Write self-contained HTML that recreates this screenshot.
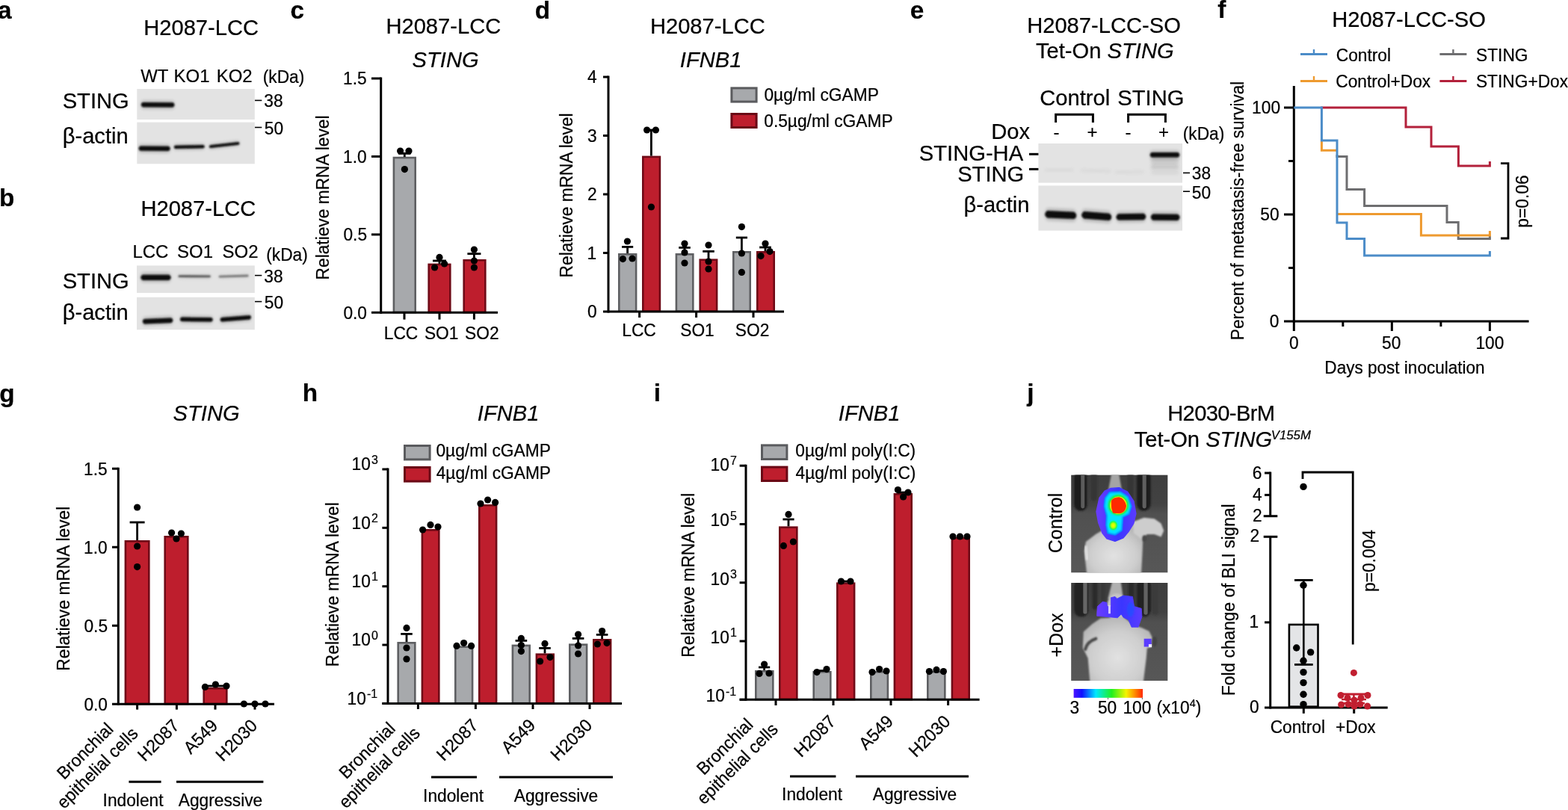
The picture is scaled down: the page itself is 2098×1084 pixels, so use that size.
<!DOCTYPE html>
<html lang="en"><head><meta charset="utf-8"><title>Figure</title>
<style>
html,body{margin:0;padding:0;background:#fff;}
body{width:2098px;height:1084px;overflow:hidden;}
svg{display:block;}
svg text{font-family:"Liberation Sans",Arial,Helvetica,sans-serif;stroke:#000;stroke-width:0.22px;stroke-linejoin:round;}
</style></head>
<body>
<svg width="2098" height="1084" viewBox="0 0 2098 1084">
<defs>
<filter id="b1" x="-30%" y="-150%" width="160%" height="400%"><feGaussianBlur stdDeviation="1.1"/></filter>
<filter id="b2" x="-30%" y="-150%" width="160%" height="400%"><feGaussianBlur stdDeviation="2.2"/></filter>
<filter id="b3" x="-20%" y="-100%" width="140%" height="300%"><feGaussianBlur stdDeviation="3.5"/></filter>
<clipPath id="cl1"><rect x="183.3" y="119" width="157.5" height="41"/></clipPath>
<clipPath id="cl2"><rect x="183.3" y="163.6" width="157.5" height="55.70000000000002"/></clipPath>
<clipPath id="cl3"><rect x="183" y="355.4" width="157.8" height="36.60000000000002"/></clipPath>
<clipPath id="cl4"><rect x="183" y="397.8" width="157.8" height="43.5"/></clipPath>
<clipPath id="cl5"><rect x="1389.4" y="192" width="192.5999999999999" height="52.599999999999994"/></clipPath>
<clipPath id="cl6"><rect x="1389.4" y="248.4" width="192.5999999999999" height="60.20000000000002"/></clipPath>
<filter id="m1" x="-30%" y="-30%" width="160%" height="160%"><feGaussianBlur stdDeviation="7"/></filter>
<filter id="m2" x="-30%" y="-30%" width="160%" height="160%"><feGaussianBlur stdDeviation="14"/></filter>
<filter id="m3" x="-40%" y="-40%" width="180%" height="180%"><feGaussianBlur stdDeviation="24"/></filter>
<filter id="m0" x="-30%" y="-30%" width="160%" height="160%"><feGaussianBlur stdDeviation="3.5"/></filter>
<linearGradient id="mbg" x1="0" y1="0" x2="0" y2="1"><stop offset="0" stop-color="#3e3e3e"/><stop offset="0.30" stop-color="#424242"/><stop offset="0.40" stop-color="#505050"/><stop offset="1" stop-color="#575757"/></linearGradient>
<radialGradient id="body" cx="0.5" cy="0.6" r="0.65"><stop offset="0" stop-color="#e2e2e2"/><stop offset="0.6" stop-color="#cecece"/><stop offset="1" stop-color="#b0b0b0"/></radialGradient>
<radialGradient id="sig2" cx="0.5" cy="0.5" r="0.5"><stop offset="0" stop-color="#f4ff00"/><stop offset="0.35" stop-color="#c0ff00"/><stop offset="0.6" stop-color="#20ff50"/><stop offset="0.85" stop-color="#00e8ff"/><stop offset="1" stop-color="#00d8ff" stop-opacity="0"/></radialGradient>
<linearGradient id="viol" x1="0" y1="0" x2="1" y2="0"><stop offset="0" stop-color="#6a3cff"/><stop offset="0.55" stop-color="#3a36ff"/><stop offset="1" stop-color="#5a3cff"/></linearGradient>
<clipPath id="cl7"><rect x="95" y="75" width="935.6" height="947.2"/></clipPath>
<clipPath id="cl8"><rect x="95" y="72" width="935.6" height="946.5"/></clipPath>
<linearGradient id="cbar" x1="0" y1="0" x2="1" y2="0"><stop offset="0" stop-color="#4a14ff"/><stop offset="0.12" stop-color="#1010ff"/><stop offset="0.32" stop-color="#00e8ff"/><stop offset="0.55" stop-color="#20f020"/><stop offset="0.76" stop-color="#f4f400"/><stop offset="0.88" stop-color="#ff9000"/><stop offset="1" stop-color="#ff2800"/></linearGradient>
</defs>
<rect x="0" y="0" width="2098" height="1084" fill="#ffffff"/>
<text transform="translate(-2.91,24.50) scale(1,1.0)" font-size="33.30" font-weight="bold" fill="#000">a</text>
<text transform="translate(192.19,47.30) scale(1,1.035)" font-size="29.15" fill="#000">H2087-LCC</text>
<text transform="translate(188.22,109.60) scale(1,1.035)" font-size="24.00" fill="#000">WT</text>
<text transform="translate(232.58,109.60) scale(1,1.035)" font-size="24.00" fill="#000">KO1</text>
<text transform="translate(289.64,109.60) scale(1,1.035)" font-size="24.00" fill="#000">KO2</text>
<text transform="translate(351.75,110.50) scale(1,1.035)" font-size="22.75" fill="#000">(kDa)</text>
<text transform="translate(83.64,145.00) scale(1,1.035)" font-size="29.15" fill="#000">STING</text>
<text transform="translate(83.66,192.00) scale(1,1.035)" font-size="29.15" fill="#000">β-actin</text>
<rect x="183.3" y="119" width="157.5" height="41" fill="#e3e3e3"/>
<g clip-path="url(#cl1)">
<path d="M190.8,134.8 L231.4,135.0 Q235.5,140.4 231.4,145.8 L190.8,145.6 Q186.7,140.2 190.8,134.8 Z" fill="#0a0a0a" opacity="0.22" filter="url(#b2)"/>
<path d="M190.8,137.0 L231.4,137.2 Q235.5,140.4 231.4,143.6 L190.8,143.3 Q186.7,140.2 190.8,137.0 Z" fill="#0a0a0a" opacity="1" filter="url(#b1)"/>
</g>
<rect x="183.3" y="163.6" width="157.5" height="55.70000000000002" fill="#e3e3e3"/>
<g clip-path="url(#cl2)">
<path d="M187.6,193.2 L225.7,193.4 Q229.7,198.8 225.7,204.2 L187.6,204.0 Q183.5,198.6 187.6,193.2 Z" fill="#0a0a0a" opacity="0.22" filter="url(#b2)"/>
<path d="M187.6,195.4 L225.7,195.7 Q229.7,198.8 225.7,202.0 L187.6,201.8 Q183.5,198.6 187.6,195.4 Z" fill="#0a0a0a" opacity="1" filter="url(#b1)"/>
<path d="M234.2,193.1 L272.2,192.5 Q275.0,196.2 272.2,199.9 L234.2,200.5 Q231.4,196.8 234.2,193.1 Z" fill="#0a0a0a" opacity="0.22" filter="url(#b2)"/>
<path d="M234.2,194.7 L272.2,194.0 Q275.0,196.2 272.2,198.3 L234.2,199.0 Q231.4,196.8 234.2,194.7 Z" fill="#0a0a0a" opacity="1" filter="url(#b1)"/>
<path d="M281.2,192.9 L319.1,188.5 Q321.6,191.8 319.1,195.1 L281.2,199.5 Q278.7,196.2 281.2,192.9 Z" fill="#0a0a0a" opacity="0.22" filter="url(#b2)"/>
<path d="M281.2,194.2 L319.1,189.9 Q321.6,191.8 319.1,193.8 L281.2,198.1 Q278.7,196.2 281.2,194.2 Z" fill="#0a0a0a" opacity="1" filter="url(#b1)"/>
</g>
<line x1="341.00" y1="134.40" x2="350.30" y2="134.40" stroke="#000" stroke-width="1.6" stroke-linecap="butt"/>
<text transform="translate(353.37,142.90) scale(1,1.035)" font-size="22.75" fill="#000">38</text>
<line x1="341.00" y1="170.50" x2="350.30" y2="170.50" stroke="#000" stroke-width="1.6" stroke-linecap="butt"/>
<text transform="translate(353.82,180.00) scale(1,1.035)" font-size="22.75" fill="#000">50</text>
<text transform="translate(-1.07,275.60) scale(1,1.0)" font-size="33.30" font-weight="bold" fill="#000">b</text>
<text transform="translate(188.39,289.00) scale(1,1.035)" font-size="29.15" fill="#000">H2087-LCC</text>
<text transform="translate(177.46,345.00) scale(1,1.035)" font-size="24.00" fill="#000">LCC</text>
<text transform="translate(237.00,345.00) scale(1,1.035)" font-size="24.00" fill="#000">SO1</text>
<text transform="translate(297.56,345.00) scale(1,1.035)" font-size="24.00" fill="#000">SO2</text>
<text transform="translate(356.25,349.00) scale(1,1.035)" font-size="22.75" fill="#000">(kDa)</text>
<text transform="translate(83.64,385.80) scale(1,1.035)" font-size="29.15" fill="#000">STING</text>
<text transform="translate(83.66,427.70) scale(1,1.035)" font-size="29.15" fill="#000">β-actin</text>
<rect x="183" y="355.4" width="157.8" height="36.60000000000002" fill="#e3e3e3"/>
<g clip-path="url(#cl3)">
<path d="M190.7,365.1 L226.3,365.1 Q231.1,371.3 226.3,377.5 L190.7,377.5 Q185.9,371.3 190.7,365.1 Z" fill="#0a0a0a" opacity="0.22" filter="url(#b2)"/>
<path d="M190.7,367.7 L226.3,367.7 Q231.1,371.3 226.3,374.9 L190.7,374.9 Q185.9,371.3 190.7,367.7 Z" fill="#0a0a0a" opacity="1" filter="url(#b1)"/>
<path d="M239.4,367.2 L280.9,367.4 Q282.8,369.9 280.9,372.4 L239.4,372.2 Q237.6,369.7 239.4,367.2 Z" fill="#3a3a3a" opacity="0.18" filter="url(#b2)"/>
<path d="M239.4,368.2 L280.9,368.4 Q282.8,369.9 280.9,371.3 L239.4,371.1 Q237.6,369.7 239.4,368.2 Z" fill="#3a3a3a" opacity="0.8" filter="url(#b1)"/>
<path d="M293.4,367.9 L331.9,366.7 Q333.7,369.0 331.9,371.3 L293.4,372.5 Q291.6,370.2 293.4,367.9 Z" fill="#4a4a4a" opacity="0.14" filter="url(#b2)"/>
<path d="M293.4,368.8 L331.9,367.6 Q333.7,369.0 331.9,370.4 L293.4,371.6 Q291.6,370.2 293.4,368.8 Z" fill="#4a4a4a" opacity="0.65" filter="url(#b1)"/>
</g>
<rect x="183" y="397.8" width="157.8" height="43.5" fill="#e3e3e3"/>
<g clip-path="url(#cl4)">
<path d="M192.9,424.8 L229.2,423.1 Q233.5,428.6 229.2,434.1 L192.9,435.8 Q188.7,430.3 192.9,424.8 Z" fill="#0a0a0a" opacity="0.22" filter="url(#b2)"/>
<path d="M192.9,427.1 L229.2,425.4 Q233.5,428.6 229.2,431.9 L192.9,433.6 Q188.7,430.3 192.9,427.1 Z" fill="#0a0a0a" opacity="1" filter="url(#b1)"/>
<path d="M242.8,422.6 L282.9,423.1 Q286.4,427.8 282.9,432.5 L242.8,432.0 Q239.2,427.3 242.8,422.6 Z" fill="#0a0a0a" opacity="0.22" filter="url(#b2)"/>
<path d="M242.8,424.6 L282.9,425.1 Q286.4,427.8 282.9,430.6 L242.8,430.1 Q239.2,427.3 242.8,424.6 Z" fill="#0a0a0a" opacity="1" filter="url(#b1)"/>
<path d="M296.4,423.1 L334.2,419.9 Q337.8,424.6 334.2,429.3 L296.4,432.5 Q292.8,427.8 296.4,423.1 Z" fill="#0a0a0a" opacity="0.22" filter="url(#b2)"/>
<path d="M296.4,425.1 L334.2,421.9 Q337.8,424.6 334.2,427.4 L296.4,430.6 Q292.8,427.8 296.4,425.1 Z" fill="#0a0a0a" opacity="1" filter="url(#b1)"/>
</g>
<line x1="341.00" y1="368.60" x2="350.30" y2="368.60" stroke="#000" stroke-width="1.6" stroke-linecap="butt"/>
<text transform="translate(353.37,377.80) scale(1,1.035)" font-size="22.75" fill="#000">38</text>
<line x1="341.00" y1="403.60" x2="350.30" y2="403.60" stroke="#000" stroke-width="1.6" stroke-linecap="butt"/>
<text transform="translate(353.82,412.80) scale(1,1.035)" font-size="22.75" fill="#000">50</text>
<text transform="translate(388.49,24.50) scale(1,1.0)" font-size="33.30" font-weight="bold" fill="#000">c</text>
<text transform="translate(516.39,45.00) scale(1,1.035)" font-size="29.15" fill="#000">H2087-LCC</text>
<text transform="translate(551.62,90.00) scale(1,1.035)" font-size="29.15" font-style="italic" fill="#000">STING</text>
<rect x="526.90" y="211.03" width="28.80" height="206.97" fill="#a7a9ac" stroke="#5e5f62" stroke-width="2.6"/>
<rect x="573.70" y="353.90" width="28.60" height="64.10" fill="#be1e2d" stroke="#700a17" stroke-width="2.6"/>
<rect x="620.70" y="348.30" width="28.60" height="69.70" fill="#be1e2d" stroke="#700a17" stroke-width="2.6"/>
<line x1="509.70" y1="103.50" x2="509.70" y2="419.80" stroke="#000" stroke-width="3.0" stroke-linecap="butt"/>
<line x1="497.00" y1="418.30" x2="666.00" y2="418.30" stroke="#000" stroke-width="3.0" stroke-linecap="butt"/>
<line x1="497.00" y1="313.87" x2="509.70" y2="313.87" stroke="#000" stroke-width="3.0" stroke-linecap="butt"/>
<line x1="497.00" y1="209.43" x2="509.70" y2="209.43" stroke="#000" stroke-width="3.0" stroke-linecap="butt"/>
<line x1="497.00" y1="105.00" x2="509.70" y2="105.00" stroke="#000" stroke-width="3.0" stroke-linecap="butt"/>
<line x1="541.00" y1="418.30" x2="541.00" y2="427.60" stroke="#000" stroke-width="3.0" stroke-linecap="butt"/>
<line x1="588.00" y1="418.30" x2="588.00" y2="427.60" stroke="#000" stroke-width="3.0" stroke-linecap="butt"/>
<line x1="634.40" y1="418.30" x2="634.40" y2="427.60" stroke="#000" stroke-width="3.0" stroke-linecap="butt"/>
<text transform="translate(459.38,426.70) scale(1,1.035)" font-size="22.75" fill="#000">0.0</text>
<text transform="translate(459.44,322.27) scale(1,1.035)" font-size="22.75" fill="#000">0.5</text>
<text transform="translate(458.98,217.83) scale(1,1.035)" font-size="22.75" fill="#000">1.0</text>
<text transform="translate(459.04,113.40) scale(1,1.035)" font-size="22.75" fill="#000">1.5</text>
<text transform="translate(513.74,454.00) scale(1,1.035)" font-size="22.75" fill="#000">LCC</text>
<text transform="translate(567.95,454.00) scale(1,1.035)" font-size="22.75" fill="#000">SO1</text>
<text transform="translate(622.11,454.00) scale(1,1.035)" font-size="22.75" fill="#000">SO2</text>
<text transform="translate(440.00,374.42) rotate(-90) scale(1,1.035)" font-size="22.75" fill="#000">Relatieve mRNA level</text>
<line x1="541.30" y1="205.40" x2="541.30" y2="210.00" stroke="#000" stroke-width="2.8" stroke-linecap="butt"/>
<line x1="533.10" y1="205.40" x2="549.50" y2="205.40" stroke="#000" stroke-width="2.8" stroke-linecap="butt"/>
<circle cx="535.60" cy="202.00" r="4.6" fill="#000"/>
<circle cx="547.00" cy="202.00" r="4.6" fill="#000"/>
<circle cx="541.40" cy="226.60" r="4.6" fill="#000"/>
<line x1="588.00" y1="349.00" x2="588.00" y2="353.00" stroke="#000" stroke-width="2.8" stroke-linecap="butt"/>
<line x1="579.00" y1="349.00" x2="597.00" y2="349.00" stroke="#000" stroke-width="2.8" stroke-linecap="butt"/>
<circle cx="588.00" cy="344.40" r="4.6" fill="#000"/>
<circle cx="594.60" cy="353.00" r="4.6" fill="#000"/>
<circle cx="581.60" cy="358.00" r="4.6" fill="#000"/>
<line x1="634.40" y1="339.60" x2="634.40" y2="347.00" stroke="#000" stroke-width="2.8" stroke-linecap="butt"/>
<line x1="625.40" y1="339.60" x2="643.40" y2="339.60" stroke="#000" stroke-width="2.8" stroke-linecap="butt"/>
<circle cx="634.40" cy="334.00" r="4.6" fill="#000"/>
<circle cx="634.40" cy="349.00" r="4.6" fill="#000"/>
<circle cx="634.40" cy="358.00" r="4.6" fill="#000"/>
<text transform="translate(715.71,24.50) scale(1,1.0)" font-size="33.30" font-weight="bold" fill="#000">d</text>
<text transform="translate(869.89,45.00) scale(1,1.035)" font-size="29.15" fill="#000">H2087-LCC</text>
<text transform="translate(909.84,90.00) scale(1,1.035)" font-size="29.15" font-style="italic" fill="#000">IFNB1</text>
<rect x="828.30" y="340.30" width="22.80" height="76.40" fill="#a7a9ac" stroke="#5e5f62" stroke-width="2.6"/>
<rect x="860.30" y="209.90" width="22.60" height="206.80" fill="#be1e2d" stroke="#700a17" stroke-width="2.6"/>
<rect x="904.90" y="340.30" width="22.40" height="76.40" fill="#a7a9ac" stroke="#5e5f62" stroke-width="2.6"/>
<rect x="936.70" y="347.70" width="22.40" height="69.00" fill="#be1e2d" stroke="#700a17" stroke-width="2.6"/>
<rect x="981.30" y="337.30" width="22.40" height="79.40" fill="#a7a9ac" stroke="#5e5f62" stroke-width="2.6"/>
<rect x="1013.30" y="337.30" width="22.40" height="79.40" fill="#be1e2d" stroke="#700a17" stroke-width="2.6"/>
<line x1="814.00" y1="101.50" x2="814.00" y2="418.50" stroke="#000" stroke-width="3.0" stroke-linecap="butt"/>
<line x1="807.00" y1="417.00" x2="1049.00" y2="417.00" stroke="#000" stroke-width="3.0" stroke-linecap="butt"/>
<line x1="807.00" y1="338.50" x2="814.00" y2="338.50" stroke="#000" stroke-width="3.0" stroke-linecap="butt"/>
<line x1="807.00" y1="260.00" x2="814.00" y2="260.00" stroke="#000" stroke-width="3.0" stroke-linecap="butt"/>
<line x1="807.00" y1="181.50" x2="814.00" y2="181.50" stroke="#000" stroke-width="3.0" stroke-linecap="butt"/>
<line x1="807.00" y1="103.00" x2="814.00" y2="103.00" stroke="#000" stroke-width="3.0" stroke-linecap="butt"/>
<line x1="855.60" y1="417.00" x2="855.60" y2="425.00" stroke="#000" stroke-width="3.0" stroke-linecap="butt"/>
<line x1="931.60" y1="417.00" x2="931.60" y2="425.00" stroke="#000" stroke-width="3.0" stroke-linecap="butt"/>
<line x1="1008.00" y1="417.00" x2="1008.00" y2="425.00" stroke="#000" stroke-width="3.0" stroke-linecap="butt"/>
<text transform="translate(785.88,425.20) scale(1,1.035)" font-size="22.75" fill="#000">0</text>
<text transform="translate(785.60,346.70) scale(1,1.035)" font-size="22.75" fill="#000">1</text>
<text transform="translate(785.94,268.20) scale(1,1.035)" font-size="22.75" fill="#000">2</text>
<text transform="translate(785.94,189.70) scale(1,1.035)" font-size="22.75" fill="#000">3</text>
<text transform="translate(786.05,111.20) scale(1,1.035)" font-size="22.75" fill="#000">4</text>
<text transform="translate(832.24,450.00) scale(1,1.035)" font-size="22.75" fill="#000">LCC</text>
<text transform="translate(910.25,450.00) scale(1,1.035)" font-size="22.75" fill="#000">SO1</text>
<text transform="translate(983.81,450.00) scale(1,1.035)" font-size="22.75" fill="#000">SO2</text>
<text transform="translate(766.00,371.42) rotate(-90) scale(1,1.035)" font-size="22.75" fill="#000">Relatieve mRNA level</text>
<line x1="839.60" y1="330.40" x2="839.60" y2="339.00" stroke="#000" stroke-width="2.8" stroke-linecap="butt"/>
<line x1="832.00" y1="330.40" x2="847.20" y2="330.40" stroke="#000" stroke-width="2.8" stroke-linecap="butt"/>
<circle cx="839.40" cy="323.00" r="4.6" fill="#000"/>
<circle cx="833.40" cy="346.60" r="4.6" fill="#000"/>
<circle cx="846.00" cy="346.00" r="4.6" fill="#000"/>
<line x1="871.40" y1="174.00" x2="871.40" y2="208.60" stroke="#000" stroke-width="2.8" stroke-linecap="butt"/>
<line x1="863.80" y1="174.00" x2="879.00" y2="174.00" stroke="#000" stroke-width="2.8" stroke-linecap="butt"/>
<circle cx="865.60" cy="174.00" r="4.6" fill="#000"/>
<circle cx="877.40" cy="174.00" r="4.6" fill="#000"/>
<circle cx="871.40" cy="277.00" r="4.6" fill="#000"/>
<line x1="916.00" y1="331.40" x2="916.00" y2="339.00" stroke="#000" stroke-width="2.8" stroke-linecap="butt"/>
<line x1="908.20" y1="331.40" x2="923.80" y2="331.40" stroke="#000" stroke-width="2.8" stroke-linecap="butt"/>
<circle cx="916.00" cy="326.00" r="4.6" fill="#000"/>
<circle cx="916.00" cy="338.00" r="4.6" fill="#000"/>
<circle cx="916.00" cy="352.00" r="4.6" fill="#000"/>
<line x1="948.00" y1="336.40" x2="948.00" y2="346.40" stroke="#000" stroke-width="2.8" stroke-linecap="butt"/>
<line x1="940.20" y1="336.40" x2="955.80" y2="336.40" stroke="#000" stroke-width="2.8" stroke-linecap="butt"/>
<circle cx="948.00" cy="328.00" r="4.6" fill="#000"/>
<circle cx="948.00" cy="350.00" r="4.6" fill="#000"/>
<circle cx="948.00" cy="360.00" r="4.6" fill="#000"/>
<line x1="992.40" y1="318.00" x2="992.40" y2="336.00" stroke="#000" stroke-width="2.8" stroke-linecap="butt"/>
<line x1="984.80" y1="318.00" x2="1000.00" y2="318.00" stroke="#000" stroke-width="2.8" stroke-linecap="butt"/>
<circle cx="992.40" cy="303.60" r="4.6" fill="#000"/>
<circle cx="992.40" cy="339.00" r="4.6" fill="#000"/>
<circle cx="992.40" cy="364.40" r="4.6" fill="#000"/>
<line x1="1024.00" y1="331.00" x2="1024.00" y2="336.00" stroke="#000" stroke-width="2.8" stroke-linecap="butt"/>
<line x1="1016.20" y1="331.00" x2="1031.80" y2="331.00" stroke="#000" stroke-width="2.8" stroke-linecap="butt"/>
<circle cx="1024.00" cy="326.00" r="4.6" fill="#000"/>
<circle cx="1030.00" cy="336.60" r="4.6" fill="#000"/>
<circle cx="1018.00" cy="342.60" r="4.6" fill="#000"/>
<rect x="978.90" y="117.90" width="33.20" height="18.20" fill="#a7a9ac" stroke="#5a5b5e" stroke-width="3.0"/>
<rect x="978.90" y="152.50" width="33.20" height="18.00" fill="#be1e2d" stroke="#6a0915" stroke-width="3.0"/>
<text transform="translate(1022.45,135.00) scale(1,1.035)" font-size="22.75" fill="#000">0µg/ml cGAMP</text>
<text transform="translate(1022.25,169.60) scale(1,1.035)" font-size="22.75" fill="#000">0.5µg/ml cGAMP</text>
<text transform="translate(1217.68,24.50) scale(1,1.0)" font-size="33.30" font-weight="bold" fill="#000">e</text>
<text transform="translate(1374.16,44.00) scale(1,1.035)" font-size="29.15" fill="#000">H2087-LCC-SO</text>
<text transform="translate(1386,78) scale(1,1.035)" font-size="29.15">Tet-On <tspan font-style="italic">STING</tspan></text>
<text transform="translate(1391.29,141.00) scale(1,1.035)" font-size="29.15" fill="#000">Control</text>
<text transform="translate(1495.34,141.00) scale(1,1.035)" font-size="29.15" fill="#000">STING</text>
<path d="M1412.6,164 V153.3 H1462.4 V164" stroke="#000" stroke-width="3" fill="none" stroke-linejoin="miter"/>
<path d="M1509.6,164 V153.3 H1559.4 V164" stroke="#000" stroke-width="3" fill="none" stroke-linejoin="miter"/>
<text transform="translate(1326.24,185.80) scale(1,1.035)" font-size="29.15" fill="#000">Dox</text>
<text transform="translate(1409.58,185.20) scale(1,1.035)" font-size="24.00" fill="#000">-</text>
<text transform="translate(1505.58,185.20) scale(1,1.035)" font-size="24.00" fill="#000">-</text>
<text transform="translate(1454.58,185.20) scale(1,1.035)" font-size="24.00" fill="#000">+</text>
<text transform="translate(1549.98,185.20) scale(1,1.035)" font-size="24.00" fill="#000">+</text>
<text transform="translate(1582.74,186.80) scale(1,1.035)" font-size="22.75" fill="#000">(kDa)</text>
<rect x="1389.4" y="192" width="192.5999999999999" height="52.599999999999994" fill="#e3e3e3"/>
<g clip-path="url(#cl5)">
<path d="M1540.8,201.7 L1576.2,201.7 Q1580.5,207.3 1576.2,212.9 L1540.8,212.9 Q1536.5,207.3 1540.8,201.7 Z" fill="#0a0a0a" opacity="0.22" filter="url(#b2)"/>
<path d="M1540.8,204.0 L1576.2,204.0 Q1580.5,207.3 1576.2,210.6 L1540.8,210.6 Q1536.5,207.3 1540.8,204.0 Z" fill="#0a0a0a" opacity="1" filter="url(#b1)"/>
<path d="M1542.7,208.1 L1574.3,208.1 Q1580.4,216.0 1574.3,223.9 L1542.7,223.9 Q1536.6,216.0 1542.7,208.1 Z" fill="#555" opacity="0.03" filter="url(#b2)"/>
<path d="M1542.7,211.3 L1574.3,211.3 Q1580.4,216.0 1574.3,220.7 L1542.7,220.7 Q1536.6,216.0 1542.7,211.3 Z" fill="#555" opacity="0.14" filter="url(#b2)"/>
<path d="M1540.7,221.2 L1576.3,221.2 Q1578.5,224.0 1576.3,226.8 L1540.7,226.8 Q1538.5,224.0 1540.7,221.2 Z" fill="#666" opacity="0.05" filter="url(#b2)"/>
<path d="M1540.7,222.3 L1576.3,222.3 Q1578.5,224.0 1576.3,225.7 L1540.7,225.7 Q1538.5,224.0 1540.7,222.3 Z" fill="#666" opacity="0.22" filter="url(#b2)"/>
<path d="M1541.2,229.0 L1576.8,229.0 Q1578.3,231.0 1576.8,233.0 L1541.2,233.0 Q1539.7,231.0 1541.2,229.0 Z" fill="#888" opacity="0.04" filter="url(#b2)"/>
<path d="M1541.2,229.8 L1576.8,229.8 Q1578.3,231.0 1576.8,232.2 L1541.2,232.2 Q1539.7,231.0 1541.2,229.8 Z" fill="#888" opacity="0.2" filter="url(#b2)"/>
<path d="M1398.2,225.5 L1435.8,225.5 Q1437.3,227.5 1435.8,229.5 L1398.2,229.5 Q1396.7,227.5 1398.2,225.5 Z" fill="#999" opacity="0.03" filter="url(#b2)"/>
<path d="M1398.2,226.3 L1435.8,226.3 Q1437.3,227.5 1435.8,228.7 L1398.2,228.7 Q1396.7,227.5 1398.2,226.3 Z" fill="#999" opacity="0.15" filter="url(#b2)"/>
<path d="M1446.2,226.0 L1485.8,227.0 Q1487.3,229.0 1485.8,231.0 L1446.2,230.0 Q1444.7,228.0 1446.2,226.0 Z" fill="#999" opacity="0.03" filter="url(#b2)"/>
<path d="M1446.2,226.8 L1485.8,227.8 Q1487.3,229.0 1485.8,230.2 L1446.2,229.2 Q1444.7,228.0 1446.2,226.8 Z" fill="#999" opacity="0.15" filter="url(#b2)"/>
<path d="M1492.2,228.5 L1529.8,228.0 Q1531.3,230.0 1529.8,232.0 L1492.2,232.5 Q1490.7,230.5 1492.2,228.5 Z" fill="#999" opacity="0.03" filter="url(#b2)"/>
<path d="M1492.2,229.3 L1529.8,228.8 Q1531.3,230.0 1529.8,231.2 L1492.2,231.7 Q1490.7,230.5 1492.2,229.3 Z" fill="#999" opacity="0.15" filter="url(#b2)"/>
</g>
<rect x="1389.4" y="248.4" width="192.5999999999999" height="60.20000000000002" fill="#e3e3e3"/>
<g clip-path="url(#cl6)">
<path d="M1401.2,278.8 L1437.3,280.4 Q1443.4,288.4 1437.3,296.4 L1401.2,294.8 Q1395.1,286.8 1401.2,278.8 Z" fill="#0a0a0a" opacity="0.22" filter="url(#b2)"/>
<path d="M1401.2,282.1 L1437.3,283.7 Q1443.4,288.4 1437.3,293.1 L1401.2,291.5 Q1395.1,286.8 1401.2,282.1 Z" fill="#0a0a0a" opacity="1" filter="url(#b1)"/>
<path d="M1450.2,279.8 L1484.3,282.4 Q1490.4,290.4 1484.3,298.4 L1450.2,295.8 Q1444.1,287.8 1450.2,279.8 Z" fill="#0a0a0a" opacity="0.22" filter="url(#b2)"/>
<path d="M1450.2,283.1 L1484.3,285.7 Q1490.4,290.4 1484.3,295.1 L1450.2,292.5 Q1444.1,287.8 1450.2,283.1 Z" fill="#0a0a0a" opacity="1" filter="url(#b1)"/>
<path d="M1496.2,283.3 L1530.5,282.9 Q1536.0,290.0 1530.5,297.1 L1496.2,297.5 Q1490.7,290.4 1496.2,283.3 Z" fill="#0a0a0a" opacity="0.22" filter="url(#b2)"/>
<path d="M1496.2,286.2 L1530.5,285.8 Q1536.0,290.0 1530.5,294.2 L1496.2,294.6 Q1490.7,290.4 1496.2,286.2 Z" fill="#0a0a0a" opacity="1" filter="url(#b1)"/>
<path d="M1542.5,283.6 L1575.9,283.8 Q1581.2,290.8 1575.9,297.8 L1542.5,297.6 Q1537.2,290.6 1542.5,283.6 Z" fill="#0a0a0a" opacity="0.22" filter="url(#b2)"/>
<path d="M1542.5,286.5 L1575.9,286.7 Q1581.2,290.8 1575.9,294.9 L1542.5,294.7 Q1537.2,290.6 1542.5,286.5 Z" fill="#0a0a0a" opacity="1" filter="url(#b1)"/>
</g>
<text transform="translate(1229.85,215.00) scale(1,1.035)" font-size="29.15" fill="#000">STING-HA</text>
<line x1="1377.00" y1="206.30" x2="1389.40" y2="206.30" stroke="#000" stroke-width="3" stroke-linecap="butt"/>
<text transform="translate(1281.14,243.10) scale(1,1.035)" font-size="29.15" fill="#000">STING</text>
<line x1="1377.00" y1="226.40" x2="1389.40" y2="226.40" stroke="#000" stroke-width="3" stroke-linecap="butt"/>
<text transform="translate(1289.41,284.00) scale(1,1.035)" font-size="29.15" fill="#000">β-actin</text>
<line x1="1583.00" y1="231.40" x2="1592.00" y2="231.40" stroke="#000" stroke-width="1.6" stroke-linecap="butt"/>
<text transform="translate(1594.87,240.40) scale(1,1.035)" font-size="22.75" fill="#000">38</text>
<line x1="1583.00" y1="256.20" x2="1592.00" y2="256.20" stroke="#000" stroke-width="1.6" stroke-linecap="butt"/>
<text transform="translate(1594.82,266.00) scale(1,1.035)" font-size="22.75" fill="#000">50</text>
<text transform="translate(1629.17,24.40) scale(1,1.0)" font-size="33.30" font-weight="bold" fill="#000">f</text>
<text transform="translate(1782.16,35.60) scale(1,1.035)" font-size="29.15" fill="#000">H2087-LCC-SO</text>
<line x1="1740.00" y1="72.60" x2="1776.00" y2="72.60" stroke="#4b8cc8" stroke-width="3.0" stroke-linecap="butt"/>
<line x1="1758.00" y1="72.60" x2="1758.00" y2="66.10" stroke="#4b8cc8" stroke-width="2.4000000000000004" stroke-linecap="butt"/>
<text transform="translate(1787.74,82.00) scale(1,1.035)" font-size="22.75" fill="#000">Control</text>
<line x1="1926.40" y1="72.60" x2="1962.40" y2="72.60" stroke="#6e6e70" stroke-width="3.0" stroke-linecap="butt"/>
<line x1="1944.40" y1="72.60" x2="1944.40" y2="66.10" stroke="#6e6e70" stroke-width="2.4000000000000004" stroke-linecap="butt"/>
<text transform="translate(1975.03,82.00) scale(1,1.035)" font-size="22.75" fill="#000">STING</text>
<line x1="1740.00" y1="108.40" x2="1776.00" y2="108.40" stroke="#ee9a2f" stroke-width="3.0" stroke-linecap="butt"/>
<line x1="1758.00" y1="108.40" x2="1758.00" y2="101.90" stroke="#ee9a2f" stroke-width="2.4000000000000004" stroke-linecap="butt"/>
<text transform="translate(1787.22,117.00) scale(1,1.035)" font-size="22.75" fill="#000">Control+Dox</text>
<line x1="1926.40" y1="108.40" x2="1962.40" y2="108.40" stroke="#b3213b" stroke-width="3.0" stroke-linecap="butt"/>
<line x1="1944.40" y1="108.40" x2="1944.40" y2="101.90" stroke="#b3213b" stroke-width="2.4000000000000004" stroke-linecap="butt"/>
<text transform="translate(1974.90,117.00) scale(1,1.035)" font-size="22.75" fill="#000">STING+Dox</text>
<line x1="1731.30" y1="115.00" x2="1731.30" y2="431.50" stroke="#000" stroke-width="3.0" stroke-linecap="butt"/>
<line x1="1718.00" y1="430.00" x2="2045.60" y2="430.00" stroke="#000" stroke-width="3.0" stroke-linecap="butt"/>
<line x1="1718.00" y1="287.00" x2="1731.30" y2="287.00" stroke="#000" stroke-width="3.0" stroke-linecap="butt"/>
<line x1="1718.00" y1="144.00" x2="1731.30" y2="144.00" stroke="#000" stroke-width="3.0" stroke-linecap="butt"/>
<line x1="1724.00" y1="358.50" x2="1731.30" y2="358.50" stroke="#000" stroke-width="3.0" stroke-linecap="butt"/>
<line x1="1724.00" y1="215.50" x2="1731.30" y2="215.50" stroke="#000" stroke-width="3.0" stroke-linecap="butt"/>
<line x1="1731.30" y1="430.00" x2="1731.30" y2="443.00" stroke="#000" stroke-width="3.0" stroke-linecap="butt"/>
<line x1="1862.35" y1="430.00" x2="1862.35" y2="443.00" stroke="#000" stroke-width="3.0" stroke-linecap="butt"/>
<line x1="1993.40" y1="430.00" x2="1993.40" y2="443.00" stroke="#000" stroke-width="3.0" stroke-linecap="butt"/>
<line x1="1796.83" y1="430.00" x2="1796.83" y2="437.00" stroke="#000" stroke-width="3.0" stroke-linecap="butt"/>
<line x1="1927.88" y1="430.00" x2="1927.88" y2="437.00" stroke="#000" stroke-width="3.0" stroke-linecap="butt"/>
<path d="M1767.2,144.0 L1881.0,144.0 L1881.0,170.0 L1915.0,170.0 L1915.0,196.0 L1951.4,196.0 L1951.4,222.0 L1993.4,222.0 v-6" stroke="#b3213b" stroke-width="3.0" fill="none" stroke-linejoin="miter"/>
<path d="M1789.0,207.0 L1789.0,209.4 L1802.0,209.4 L1802.0,253.6 L1825.6,253.6 L1825.6,275.6 L1936.0,275.6 L1936.0,297.4 L1951.2,297.4 L1951.2,319.4 L1993.4,319.4 v-4" stroke="#6e6e70" stroke-width="3.0" fill="none" stroke-linejoin="miter"/>
<path d="M1768.4,186.0 L1768.4,201.2 L1789.0,201.2" stroke="#ee9a2f" stroke-width="3.0" fill="none" stroke-linejoin="miter"/>
<path d="M1789.0,286.4 L1901.4,286.4 L1901.4,315.0 L1993.4,315.0 v-6" stroke="#ee9a2f" stroke-width="3.0" fill="none" stroke-linejoin="miter"/>
<path d="M1731.3,144.0 L1768.4,144.0 L1768.4,188.0 L1789.0,188.0 L1789.0,298.0 L1802.0,298.0 L1802.0,319.6 L1825.6,319.6 L1825.6,342.0 L1993.4,342.0 v-6" stroke="#4b8cc8" stroke-width="3.0" fill="none" stroke-linejoin="miter"/>
<text transform="translate(1675.11,152.40) scale(1,1.035)" font-size="22.75" fill="#000">100</text>
<text transform="translate(1686.32,294.60) scale(1,1.035)" font-size="22.75" fill="#000">50</text>
<text transform="translate(1698.63,438.20) scale(1,1.035)" font-size="22.75" fill="#000">0</text>
<text transform="translate(1724.93,466.80) scale(1,1.035)" font-size="22.75" fill="#000">0</text>
<text transform="translate(1849.02,466.80) scale(1,1.035)" font-size="22.75" fill="#000">50</text>
<text transform="translate(1974.41,466.80) scale(1,1.035)" font-size="22.75" fill="#000">100</text>
<text transform="translate(1772.36,499.70) scale(1,1.035)" font-size="22.55" fill="#000">Days post inoculation</text>
<text transform="translate(1664.00,455.15) rotate(-90) scale(1,1.035)" font-size="22.60" fill="#000">Percent of metastasis-free survival</text>
<path d="M2008,218.6 H2018 V319 H2008" stroke="#000" stroke-width="2.8" fill="none" stroke-linejoin="miter"/>
<text transform="translate(2044.60,304.63) rotate(-90) scale(1,1.035)" font-size="22.75" fill="#000">p=0.06</text>
<text transform="translate(-0.75,537.60) scale(1,1.0)" font-size="33.30" font-weight="bold" fill="#000">g</text>
<text transform="translate(231.62,563.00) scale(1,1.035)" font-size="29.15" font-style="italic" fill="#000">STING</text>
<rect x="167.90" y="724.30" width="31.40" height="217.70" fill="#be1e2d" stroke="#700a17" stroke-width="2.6"/>
<rect x="220.70" y="718.30" width="30.60" height="223.70" fill="#be1e2d" stroke="#700a17" stroke-width="2.6"/>
<rect x="272.70" y="921.30" width="30.60" height="20.70" fill="#be1e2d" stroke="#700a17" stroke-width="2.6"/>
<line x1="158.30" y1="625.70" x2="158.30" y2="943.80" stroke="#000" stroke-width="3.0" stroke-linecap="butt"/>
<line x1="150.00" y1="942.30" x2="367.00" y2="942.30" stroke="#000" stroke-width="3.0" stroke-linecap="butt"/>
<line x1="150.00" y1="837.27" x2="158.30" y2="837.27" stroke="#000" stroke-width="3.0" stroke-linecap="butt"/>
<line x1="150.00" y1="732.23" x2="158.30" y2="732.23" stroke="#000" stroke-width="3.0" stroke-linecap="butt"/>
<line x1="150.00" y1="627.20" x2="158.30" y2="627.20" stroke="#000" stroke-width="3.0" stroke-linecap="butt"/>
<line x1="183.60" y1="942.30" x2="183.60" y2="949.60" stroke="#000" stroke-width="3.0" stroke-linecap="butt"/>
<line x1="236.40" y1="942.30" x2="236.40" y2="949.60" stroke="#000" stroke-width="3.0" stroke-linecap="butt"/>
<line x1="288.00" y1="942.30" x2="288.00" y2="949.60" stroke="#000" stroke-width="3.0" stroke-linecap="butt"/>
<line x1="341.00" y1="942.30" x2="341.00" y2="949.60" stroke="#000" stroke-width="3.0" stroke-linecap="butt"/>
<text transform="translate(112.38,951.10) scale(1,1.035)" font-size="22.75" fill="#000">0.0</text>
<text transform="translate(112.44,846.07) scale(1,1.035)" font-size="22.75" fill="#000">0.5</text>
<text transform="translate(111.98,741.03) scale(1,1.035)" font-size="22.75" fill="#000">1.0</text>
<text transform="translate(112.04,636.00) scale(1,1.035)" font-size="22.75" fill="#000">1.5</text>
<text transform="translate(93.00,897.67) rotate(-90) scale(1,1.035)" font-size="22.75" fill="#000">Relatieve mRNA level</text>
<line x1="183.60" y1="699.00" x2="183.60" y2="723.00" stroke="#000" stroke-width="2.8" stroke-linecap="butt"/>
<line x1="173.60" y1="699.00" x2="193.60" y2="699.00" stroke="#000" stroke-width="2.8" stroke-linecap="butt"/>
<circle cx="183.60" cy="679.00" r="4.6" fill="#000"/>
<circle cx="183.60" cy="731.00" r="4.6" fill="#000"/>
<circle cx="183.60" cy="758.60" r="4.6" fill="#000"/>
<circle cx="229.60" cy="713.00" r="4.6" fill="#000"/>
<circle cx="242.40" cy="714.00" r="4.6" fill="#000"/>
<circle cx="236.00" cy="721.00" r="4.6" fill="#000"/>
<line x1="274.00" y1="918.00" x2="302.00" y2="918.00" stroke="#000" stroke-width="2.8" stroke-linecap="butt"/>
<circle cx="274.40" cy="919.40" r="4.6" fill="#000"/>
<circle cx="288.40" cy="916.00" r="4.6" fill="#000"/>
<circle cx="303.00" cy="918.00" r="4.6" fill="#000"/>
<circle cx="326.40" cy="942.00" r="4.6" fill="#000"/>
<circle cx="341.00" cy="942.00" r="4.6" fill="#000"/>
<circle cx="355.00" cy="942.00" r="4.6" fill="#000"/>
<text transform="translate(153.00,977.20) rotate(-45) scale(1,1.035)" font-size="22.80" text-anchor="end">Bronchial</text>
<text transform="translate(186.00,983.20) rotate(-45) scale(1,1.035)" font-size="22.80" text-anchor="end">epithelial cells</text>
<text transform="translate(241.20,972.50) rotate(-45) scale(1,1.035)" font-size="22.80" text-anchor="end">H2087</text>
<text transform="translate(292.80,972.50) rotate(-45) scale(1,1.035)" font-size="22.80" text-anchor="end">A549</text>
<text transform="translate(345.80,972.50) rotate(-45) scale(1,1.035)" font-size="22.80" text-anchor="end">H2030</text>
<line x1="172.40" y1="1046.30" x2="215.60" y2="1046.30" stroke="#000" stroke-width="3.0" stroke-linecap="butt"/>
<text transform="translate(137.59,1078.90) scale(1,1.035)" font-size="22.75" fill="#000">Indolent</text>
<line x1="236.00" y1="1046.30" x2="352.40" y2="1046.30" stroke="#000" stroke-width="3.0" stroke-linecap="butt"/>
<text transform="translate(238.76,1078.90) scale(1,1.035)" font-size="22.75" fill="#000">Aggressive</text>
<text transform="translate(404.78,537.10) scale(1,1.0)" font-size="33.30" font-weight="bold" fill="#000">h</text>
<text transform="translate(638.84,563.00) scale(1,1.035)" font-size="29.15" font-style="italic" fill="#000">IFNB1</text>
<rect x="532.70" y="860.30" width="22.60" height="80.80" fill="#a7a9ac" stroke="#5e5f62" stroke-width="2.6"/>
<rect x="564.90" y="709.30" width="22.40" height="231.80" fill="#be1e2d" stroke="#700a17" stroke-width="2.6"/>
<rect x="609.30" y="865.70" width="22.80" height="75.40" fill="#a7a9ac" stroke="#5e5f62" stroke-width="2.6"/>
<rect x="641.30" y="676.30" width="22.80" height="264.80" fill="#be1e2d" stroke="#700a17" stroke-width="2.6"/>
<rect x="685.90" y="863.90" width="22.80" height="77.20" fill="#a7a9ac" stroke="#5e5f62" stroke-width="2.6"/>
<rect x="717.90" y="875.70" width="22.80" height="65.40" fill="#be1e2d" stroke="#700a17" stroke-width="2.6"/>
<rect x="762.30" y="862.70" width="22.80" height="78.40" fill="#a7a9ac" stroke="#5e5f62" stroke-width="2.6"/>
<rect x="794.30" y="856.30" width="22.80" height="84.80" fill="#be1e2d" stroke="#700a17" stroke-width="2.6"/>
<line x1="519.00" y1="626.50" x2="519.00" y2="942.90" stroke="#000" stroke-width="3.0" stroke-linecap="butt"/>
<line x1="511.40" y1="941.40" x2="832.00" y2="941.40" stroke="#000" stroke-width="3.0" stroke-linecap="butt"/>
<line x1="511.40" y1="941.40" x2="519.00" y2="941.40" stroke="#000" stroke-width="3.0" stroke-linecap="butt"/>
<line x1="511.40" y1="863.05" x2="519.00" y2="863.05" stroke="#000" stroke-width="3.0" stroke-linecap="butt"/>
<line x1="511.40" y1="784.70" x2="519.00" y2="784.70" stroke="#000" stroke-width="3.0" stroke-linecap="butt"/>
<line x1="511.40" y1="706.35" x2="519.00" y2="706.35" stroke="#000" stroke-width="3.0" stroke-linecap="butt"/>
<line x1="511.40" y1="628.00" x2="519.00" y2="628.00" stroke="#000" stroke-width="3.0" stroke-linecap="butt"/>
<line x1="559.40" y1="941.40" x2="559.40" y2="949.00" stroke="#000" stroke-width="3.0" stroke-linecap="butt"/>
<line x1="636.40" y1="941.40" x2="636.40" y2="949.00" stroke="#000" stroke-width="3.0" stroke-linecap="butt"/>
<line x1="713.00" y1="941.40" x2="713.00" y2="949.00" stroke="#000" stroke-width="3.0" stroke-linecap="butt"/>
<line x1="789.00" y1="941.40" x2="789.00" y2="949.00" stroke="#000" stroke-width="3.0" stroke-linecap="butt"/>
<text transform="translate(464.54,942.70) scale(1,1.035)" font-size="22.75">10<tspan font-size="16" dy="-8.4" dx="1.2">-1</tspan></text>
<text transform="translate(470.54,864.35) scale(1,1.035)" font-size="22.75">10<tspan font-size="16" dy="-8.4" dx="1.2">0</tspan></text>
<text transform="translate(470.54,786.00) scale(1,1.035)" font-size="22.75">10<tspan font-size="16" dy="-8.4" dx="1.2">1</tspan></text>
<text transform="translate(470.54,707.65) scale(1,1.035)" font-size="22.75">10<tspan font-size="16" dy="-8.4" dx="1.2">2</tspan></text>
<text transform="translate(470.54,629.30) scale(1,1.035)" font-size="22.75">10<tspan font-size="16" dy="-8.4" dx="1.2">3</tspan></text>
<text transform="translate(453.00,892.17) rotate(-90) scale(1,1.035)" font-size="22.75" fill="#000">Relatieve mRNA level</text>
<line x1="544.00" y1="848.40" x2="544.00" y2="859.00" stroke="#000" stroke-width="2.8" stroke-linecap="butt"/>
<line x1="536.20" y1="848.40" x2="551.80" y2="848.40" stroke="#000" stroke-width="2.8" stroke-linecap="butt"/>
<circle cx="544.00" cy="840.40" r="4.6" fill="#000"/>
<circle cx="544.00" cy="867.00" r="4.6" fill="#000"/>
<circle cx="544.00" cy="882.00" r="4.6" fill="#000"/>
<circle cx="565.60" cy="709.00" r="4.6" fill="#000"/>
<circle cx="576.00" cy="702.40" r="4.6" fill="#000"/>
<circle cx="586.00" cy="705.00" r="4.6" fill="#000"/>
<circle cx="611.00" cy="864.40" r="4.6" fill="#000"/>
<circle cx="620.60" cy="860.60" r="4.6" fill="#000"/>
<circle cx="630.60" cy="864.40" r="4.6" fill="#000"/>
<circle cx="643.00" cy="674.00" r="4.6" fill="#000"/>
<circle cx="652.60" cy="669.00" r="4.6" fill="#000"/>
<circle cx="662.60" cy="672.40" r="4.6" fill="#000"/>
<line x1="697.40" y1="857.40" x2="697.40" y2="862.60" stroke="#000" stroke-width="2.8" stroke-linecap="butt"/>
<line x1="689.60" y1="857.40" x2="705.20" y2="857.40" stroke="#000" stroke-width="2.8" stroke-linecap="butt"/>
<circle cx="697.40" cy="854.40" r="4.6" fill="#000"/>
<circle cx="697.40" cy="863.60" r="4.6" fill="#000"/>
<circle cx="697.40" cy="871.60" r="4.6" fill="#000"/>
<line x1="729.00" y1="867.40" x2="729.00" y2="874.40" stroke="#000" stroke-width="2.8" stroke-linecap="butt"/>
<line x1="721.20" y1="867.40" x2="736.80" y2="867.40" stroke="#000" stroke-width="2.8" stroke-linecap="butt"/>
<circle cx="729.00" cy="861.40" r="4.6" fill="#000"/>
<circle cx="736.00" cy="879.60" r="4.6" fill="#000"/>
<circle cx="722.60" cy="885.00" r="4.6" fill="#000"/>
<line x1="773.60" y1="854.40" x2="773.60" y2="861.40" stroke="#000" stroke-width="2.8" stroke-linecap="butt"/>
<line x1="765.80" y1="854.40" x2="781.40" y2="854.40" stroke="#000" stroke-width="2.8" stroke-linecap="butt"/>
<circle cx="773.60" cy="849.00" r="4.6" fill="#000"/>
<circle cx="773.60" cy="864.00" r="4.6" fill="#000"/>
<circle cx="773.60" cy="875.00" r="4.6" fill="#000"/>
<line x1="805.60" y1="849.40" x2="805.60" y2="855.00" stroke="#000" stroke-width="2.8" stroke-linecap="butt"/>
<line x1="797.80" y1="849.40" x2="813.40" y2="849.40" stroke="#000" stroke-width="2.8" stroke-linecap="butt"/>
<circle cx="805.60" cy="844.60" r="4.6" fill="#000"/>
<circle cx="799.40" cy="862.00" r="4.6" fill="#000"/>
<circle cx="812.00" cy="860.60" r="4.6" fill="#000"/>
<text transform="translate(530.40,976.40) rotate(-45) scale(1,1.035)" font-size="22.80" text-anchor="end">Bronchial</text>
<text transform="translate(563.20,982.60) rotate(-45) scale(1,1.035)" font-size="22.80" text-anchor="end">epithelial cells</text>
<text transform="translate(641.20,972.00) rotate(-45) scale(1,1.035)" font-size="22.80" text-anchor="end">H2087</text>
<text transform="translate(717.80,972.00) rotate(-45) scale(1,1.035)" font-size="22.80" text-anchor="end">A549</text>
<text transform="translate(793.80,972.00) rotate(-45) scale(1,1.035)" font-size="22.80" text-anchor="end">H2030</text>
<rect x="541.50" y="596.50" width="33.60" height="18.40" fill="#a7a9ac" stroke="#5a5b5e" stroke-width="3.0"/>
<rect x="541.50" y="625.50" width="33.60" height="18.60" fill="#be1e2d" stroke="#6a0915" stroke-width="3.0"/>
<text transform="translate(583.45,611.00) scale(1,1.035)" font-size="22.75" fill="#000">0µg/ml cGAMP</text>
<text transform="translate(583.67,640.60) scale(1,1.035)" font-size="22.75" fill="#000">4µg/ml cGAMP</text>
<line x1="577.00" y1="1040.00" x2="638.00" y2="1040.00" stroke="#000" stroke-width="3.0" stroke-linecap="butt"/>
<text transform="translate(566.10,1073.00) scale(1,1.035)" font-size="22.75" fill="#000">Indolent</text>
<line x1="668.00" y1="1040.00" x2="820.00" y2="1040.00" stroke="#000" stroke-width="3.0" stroke-linecap="butt"/>
<text transform="translate(687.76,1073.00) scale(1,1.035)" font-size="22.75" fill="#000">Aggressive</text>
<text transform="translate(874.64,537.10) scale(1,1.0)" font-size="33.30" font-weight="bold" fill="#000">i</text>
<text transform="translate(1121.84,563.00) scale(1,1.035)" font-size="29.15" font-style="italic" fill="#000">IFNB1</text>
<rect x="1011.30" y="898.30" width="23.00" height="37.70" fill="#a7a9ac" stroke="#5e5f62" stroke-width="2.6"/>
<rect x="1043.30" y="705.70" width="23.00" height="230.30" fill="#be1e2d" stroke="#700a17" stroke-width="2.6"/>
<rect x="1088.70" y="899.30" width="22.60" height="36.70" fill="#a7a9ac" stroke="#5e5f62" stroke-width="2.6"/>
<rect x="1120.30" y="780.70" width="22.80" height="155.30" fill="#be1e2d" stroke="#700a17" stroke-width="2.6"/>
<rect x="1165.30" y="899.30" width="22.60" height="36.70" fill="#a7a9ac" stroke="#5e5f62" stroke-width="2.6"/>
<rect x="1196.90" y="661.30" width="22.80" height="274.70" fill="#be1e2d" stroke="#700a17" stroke-width="2.6"/>
<rect x="1241.30" y="899.30" width="23.00" height="36.70" fill="#a7a9ac" stroke="#5e5f62" stroke-width="2.6"/>
<rect x="1273.90" y="720.30" width="22.80" height="215.70" fill="#be1e2d" stroke="#700a17" stroke-width="2.6"/>
<line x1="998.00" y1="621.70" x2="998.00" y2="937.80" stroke="#000" stroke-width="3.0" stroke-linecap="butt"/>
<line x1="989.60" y1="936.30" x2="1310.60" y2="936.30" stroke="#000" stroke-width="3.0" stroke-linecap="butt"/>
<line x1="989.60" y1="936.30" x2="998.00" y2="936.30" stroke="#000" stroke-width="3.0" stroke-linecap="butt"/>
<line x1="989.60" y1="858.02" x2="998.00" y2="858.02" stroke="#000" stroke-width="3.0" stroke-linecap="butt"/>
<line x1="989.60" y1="779.75" x2="998.00" y2="779.75" stroke="#000" stroke-width="3.0" stroke-linecap="butt"/>
<line x1="989.60" y1="701.48" x2="998.00" y2="701.48" stroke="#000" stroke-width="3.0" stroke-linecap="butt"/>
<line x1="989.60" y1="623.20" x2="998.00" y2="623.20" stroke="#000" stroke-width="3.0" stroke-linecap="butt"/>
<line x1="1038.00" y1="936.30" x2="1038.00" y2="944.00" stroke="#000" stroke-width="3.0" stroke-linecap="butt"/>
<line x1="1115.00" y1="936.30" x2="1115.00" y2="944.00" stroke="#000" stroke-width="3.0" stroke-linecap="butt"/>
<line x1="1192.00" y1="936.30" x2="1192.00" y2="944.00" stroke="#000" stroke-width="3.0" stroke-linecap="butt"/>
<line x1="1268.60" y1="936.30" x2="1268.60" y2="944.00" stroke="#000" stroke-width="3.0" stroke-linecap="butt"/>
<text transform="translate(944.54,939.20) scale(1,1.035)" font-size="22.75">10<tspan font-size="16" dy="-8.4" dx="1.2">-1</tspan></text>
<text transform="translate(950.54,860.92) scale(1,1.035)" font-size="22.75">10<tspan font-size="16" dy="-8.4" dx="1.2">1</tspan></text>
<text transform="translate(950.54,782.65) scale(1,1.035)" font-size="22.75">10<tspan font-size="16" dy="-8.4" dx="1.2">3</tspan></text>
<text transform="translate(950.54,704.38) scale(1,1.035)" font-size="22.75">10<tspan font-size="16" dy="-8.4" dx="1.2">5</tspan></text>
<text transform="translate(950.54,630.20) scale(1,1.035)" font-size="22.75">10<tspan font-size="16" dy="-8.4" dx="1.2">7</tspan></text>
<text transform="translate(929.00,879.67) rotate(-90) scale(1,1.035)" font-size="22.75" fill="#000">Relatieve mRNA level</text>
<line x1="1022.60" y1="893.00" x2="1022.60" y2="897.00" stroke="#000" stroke-width="2.8" stroke-linecap="butt"/>
<line x1="1015.00" y1="893.00" x2="1030.20" y2="893.00" stroke="#000" stroke-width="2.8" stroke-linecap="butt"/>
<circle cx="1022.60" cy="889.00" r="4.6" fill="#000"/>
<circle cx="1016.00" cy="901.40" r="4.6" fill="#000"/>
<circle cx="1029.00" cy="901.00" r="4.6" fill="#000"/>
<line x1="1055.00" y1="695.00" x2="1055.00" y2="704.40" stroke="#000" stroke-width="2.8" stroke-linecap="butt"/>
<line x1="1047.40" y1="695.00" x2="1062.60" y2="695.00" stroke="#000" stroke-width="2.8" stroke-linecap="butt"/>
<circle cx="1055.00" cy="688.40" r="4.6" fill="#000"/>
<circle cx="1061.40" cy="725.00" r="4.6" fill="#000"/>
<circle cx="1048.40" cy="730.40" r="4.6" fill="#000"/>
<line x1="1093.00" y1="897.60" x2="1106.00" y2="897.60" stroke="#000" stroke-width="2.8" stroke-linecap="butt"/>
<circle cx="1093.00" cy="899.60" r="4.6" fill="#000"/>
<circle cx="1106.00" cy="895.60" r="4.6" fill="#000"/>
<line x1="1125.40" y1="778.00" x2="1138.00" y2="778.00" stroke="#000" stroke-width="2.8" stroke-linecap="butt"/>
<circle cx="1125.40" cy="778.00" r="4.6" fill="#000"/>
<circle cx="1138.00" cy="778.00" r="4.6" fill="#000"/>
<circle cx="1167.00" cy="899.60" r="4.6" fill="#000"/>
<circle cx="1176.60" cy="895.60" r="4.6" fill="#000"/>
<circle cx="1186.00" cy="898.00" r="4.6" fill="#000"/>
<line x1="1201.00" y1="659.00" x2="1217.00" y2="659.00" stroke="#000" stroke-width="2.8" stroke-linecap="butt"/>
<circle cx="1201.40" cy="655.60" r="4.6" fill="#000"/>
<circle cx="1208.60" cy="665.00" r="4.6" fill="#000"/>
<circle cx="1215.00" cy="659.00" r="4.6" fill="#000"/>
<circle cx="1243.40" cy="898.60" r="4.6" fill="#000"/>
<circle cx="1253.00" cy="896.40" r="4.6" fill="#000"/>
<circle cx="1262.40" cy="898.60" r="4.6" fill="#000"/>
<circle cx="1275.00" cy="718.00" r="4.6" fill="#000"/>
<circle cx="1284.40" cy="718.00" r="4.6" fill="#000"/>
<circle cx="1294.00" cy="718.00" r="4.6" fill="#000"/>
<text transform="translate(1009.00,971.20) rotate(-45) scale(1,1.035)" font-size="22.80" text-anchor="end">Bronchial</text>
<text transform="translate(1042.40,977.40) rotate(-45) scale(1,1.035)" font-size="22.80" text-anchor="end">epithelial cells</text>
<text transform="translate(1119.40,967.00) rotate(-45) scale(1,1.035)" font-size="22.80" text-anchor="end">H2087</text>
<text transform="translate(1196.40,967.00) rotate(-45) scale(1,1.035)" font-size="22.80" text-anchor="end">A549</text>
<text transform="translate(1273.00,967.00) rotate(-45) scale(1,1.035)" font-size="22.80" text-anchor="end">H2030</text>
<rect x="1019.50" y="595.90" width="33.40" height="18.60" fill="#a7a9ac" stroke="#5a5b5e" stroke-width="3.0"/>
<rect x="1019.50" y="625.10" width="33.40" height="18.40" fill="#be1e2d" stroke="#6a0915" stroke-width="3.0"/>
<text transform="translate(1064.25,611.00) scale(1,1.035)" font-size="22.75" fill="#000">0µg/ml poly(I:C)</text>
<text transform="translate(1064.48,640.60) scale(1,1.035)" font-size="22.75" fill="#000">4µg/ml poly(I:C)</text>
<line x1="1057.00" y1="1039.00" x2="1118.40" y2="1039.00" stroke="#000" stroke-width="3.0" stroke-linecap="butt"/>
<text transform="translate(1046.10,1071.40) scale(1,1.035)" font-size="22.75" fill="#000">Indolent</text>
<line x1="1145.00" y1="1039.00" x2="1296.00" y2="1039.00" stroke="#000" stroke-width="3.0" stroke-linecap="butt"/>
<text transform="translate(1167.76,1071.40) scale(1,1.035)" font-size="22.75" fill="#000">Aggressive</text>
<text transform="translate(1374.15,537.10) scale(1,1.0)" font-size="33.30" font-weight="bold" fill="#000">j</text>
<text transform="translate(1562.22,563.00) scale(1,1.035)" font-size="29.15" fill="#000" letter-spacing="-0.65">H2030-BrM</text>
<text transform="translate(1517.6,597.6) scale(1,1.035)" font-size="29.15">Tet-On <tspan font-style="italic">STING</tspan><tspan font-style="italic" font-size="16.8" dy="-9" dx="-1.5">V155M</tspan></text>
<text transform="translate(1421.00,740.26) rotate(-90) scale(1,1.035)" font-size="25.00" fill="#000">Control</text>
<text transform="translate(1422.00,879.50) rotate(-90) scale(1,1.035)" font-size="25.00" fill="#000">+Dox</text>
<g transform="translate(1433.1,635.4) scale(0.13841) translate(-95,-75)"><g clip-path="url(#cl7)">
<rect x="95" y="75" width="935.6" height="947.2" fill="url(#mbg)"/>
<rect x="125" y="35" width="125" height="390" rx="62" fill="#1e1e1e" filter="url(#m1)"/>
<rect x="730" y="35" width="135" height="390" rx="68" fill="#1e1e1e" filter="url(#m1)"/>
<rect x="190" y="35" width="36" height="365" rx="18" fill="#5c5c5c" filter="url(#m0)"/>
<rect x="785" y="35" width="37" height="365" rx="18" fill="#5e5e5e" filter="url(#m0)"/>
<rect x="285" y="35" width="60" height="295" rx="30" fill="#363636" filter="url(#m1)"/>
<rect x="640" y="35" width="60" height="295" rx="30" fill="#363636" filter="url(#m1)"/>
<path d="M492,30 L552,30 L590,250 L450,250 Z" fill="#a4a4a4" filter="url(#m1)"/>
<ellipse cx="530" cy="440" rx="175" ry="225" fill="#c8c8c8" filter="url(#m1)"/>
<path d="M250,1060 L222,810 L238,722 L335,648 L420,600 L700,560 L790,690 L785,820 L772,1060 Z" fill="url(#body)" filter="url(#m1)"/>
<path d="M690,530 L800,490 L900,500 L965,545 L992,615 L965,675 L900,650 L830,650 L780,700 L700,640 Z" fill="#cdcdcd" filter="url(#m1)"/>
<ellipse cx="805" cy="690" rx="22" ry="30" fill="#4a4a4a" filter="url(#m1)"/>
<path d="M250,900 L235,760" stroke="#e8e8e8" stroke-width="30" fill="none" filter="url(#m1)" opacity="0.7"/>
<path d="M480,205 L560,200 L640,240 L700,330 L722,450 L700,545 L650,625 L600,685 L520,717 L440,692 L398,640 L360,540 L340,430 L368,300 L420,232 Z" fill="url(#viol)" stroke="url(#viol)" stroke-width="10" stroke-linejoin="round"/>
<path d="M470,250 L570,245 L640,290 L672,380 L650,450 L590,480 L580,610 L520,650 L455,635 L440,560 L445,470 L420,380 L430,300 Z" fill="#00dcff" stroke="#0a7cff" stroke-width="26" stroke-linejoin="round" filter="url(#m0)"/>
<path d="M470,250 L570,245 L640,290 L672,380 L650,450 L590,480 L580,610 L520,650 L455,635 L440,560 L445,470 L420,380 L430,300 Z" fill="#00e4ff" filter="url(#m1)"/>
<ellipse cx="552" cy="368" rx="100" ry="100" fill="#22f040" filter="url(#m1)"/>
<ellipse cx="552" cy="370" rx="82" ry="84" fill="#f0f000" filter="url(#m0)"/>
<path d="M486,330 Q495,296 560,294 Q612,305 626,375 Q620,438 565,446 L502,442 Q482,400 486,330 Z" fill="#ff2a00" stroke="#ff2a00" stroke-width="6" stroke-linejoin="round"/>
<ellipse cx="503" cy="565" rx="55" ry="62" fill="url(#sig2)"/>
</g></g>
<g transform="translate(1433.1,780) scale(0.13841) translate(-95,-72)"><g clip-path="url(#cl8)">
<rect x="95" y="72" width="935.6" height="946.5" fill="url(#mbg)"/>
<rect x="125" y="32" width="137" height="368" rx="68" fill="#202020" filter="url(#m1)"/>
<rect x="730" y="32" width="138" height="368" rx="69" fill="#202020" filter="url(#m1)"/>
<rect x="212" y="32" width="38" height="340" rx="19" fill="#666" filter="url(#m0)"/>
<rect x="798" y="32" width="38" height="348" rx="19" fill="#626262" filter="url(#m0)"/>
<rect x="300" y="32" width="50" height="298" rx="25" fill="#2c2c2c" filter="url(#m1)"/>
<rect x="650" y="32" width="55" height="298" rx="28" fill="#2c2c2c" filter="url(#m1)"/>
<rect x="385" y="32" width="45" height="268" rx="22" fill="#383838" filter="url(#m1)"/>
<rect x="880" y="32" width="60" height="348" rx="30" fill="#3a3a3a" filter="url(#m1)"/>
<path d="M500,30 L572,30 L600,230 L450,230 Z" fill="#b0b0b0" filter="url(#m1)"/>
<ellipse cx="535" cy="310" rx="95" ry="135" fill="#c4c4c4" filter="url(#m1)"/>
<path d="M280,1060 L258,800 L208,700 L215,545 L300,470 L380,415 L600,400 L700,480 L785,510 L850,540 L882,605 L872,690 L830,705 L822,800 L790,1060 Z" fill="url(#body)" filter="url(#m1)"/>
<path d="M232,715 Q250,640 335,612" stroke="#4a4a4a" stroke-width="30" fill="none" stroke-linecap="round" filter="url(#m1)"/>
<ellipse cx="900" cy="640" rx="26" ry="50" fill="#3c3c3c" filter="url(#m1)" opacity="0.7"/>
<path d="M345,372 L350,300 L400,255 L440,262 L445,300 L480,300 L480,215 L520,205 L540,225 L600,195 L690,205 L705,300 L775,320 L780,400 L745,500 L680,500 L650,430 L600,405 L580,375 L545,410 L345,392 Z" fill="url(#viol)" stroke="url(#viol)" stroke-width="6" stroke-linejoin="round"/>
<rect x="455" y="290" width="22" height="80" fill="#e8e0ff" opacity="0.85"/>
<ellipse cx="670" cy="330" rx="35" ry="70" fill="#2450ff" opacity="0.8" filter="url(#m1)"/>
<rect x="800" y="612" width="72" height="78" fill="#5a3cff"/>
<rect x="845" y="665" width="30" height="30" fill="#ece8ff"/>
</g></g>
<rect x="1436.6" y="922" width="92.4" height="11.8" fill="url(#cbar)"/>
<line x1="1482.50" y1="933.80" x2="1482.50" y2="936.00" stroke="#666" stroke-width="1" stroke-linecap="butt"/>
<line x1="1528.40" y1="933.80" x2="1528.40" y2="936.00" stroke="#666" stroke-width="1" stroke-linecap="butt"/>
<text transform="translate(1431.54,955.00) scale(1,1.035)" font-size="22.75" fill="#000">3</text>
<text transform="translate(1468.92,955.00) scale(1,1.035)" font-size="22.75" fill="#000">50</text>
<text transform="translate(1502.46,955.00) scale(1,1.035)" font-size="22.75" fill="#000">100</text>
<text transform="translate(1547.4,955) scale(1,1.035)" font-size="22.75">(x10<tspan font-size="14.5" dy="-8.5">4</tspan><tspan dy="8.5">)</tspan></text>
<line x1="1699.70" y1="631.50" x2="1699.70" y2="690.70" stroke="#000" stroke-width="3.0" stroke-linecap="butt"/>
<line x1="1692.00" y1="633.00" x2="1699.70" y2="633.00" stroke="#000" stroke-width="3.0" stroke-linecap="butt"/>
<line x1="1692.00" y1="662.40" x2="1699.70" y2="662.40" stroke="#000" stroke-width="3.0" stroke-linecap="butt"/>
<line x1="1690.70" y1="690.70" x2="1709.30" y2="690.70" stroke="#000" stroke-width="3.0" stroke-linecap="butt"/>
<line x1="1690.70" y1="718.30" x2="1709.30" y2="718.30" stroke="#000" stroke-width="3.0" stroke-linecap="butt"/>
<line x1="1699.70" y1="718.30" x2="1699.70" y2="948.50" stroke="#000" stroke-width="3.0" stroke-linecap="butt"/>
<line x1="1692.00" y1="832.90" x2="1699.70" y2="832.90" stroke="#000" stroke-width="3.0" stroke-linecap="butt"/>
<line x1="1692.00" y1="947.00" x2="1856.70" y2="947.00" stroke="#000" stroke-width="3.0" stroke-linecap="butt"/>
<line x1="1744.30" y1="947.00" x2="1744.30" y2="954.80" stroke="#000" stroke-width="3.0" stroke-linecap="butt"/>
<line x1="1811.70" y1="947.00" x2="1811.70" y2="954.80" stroke="#000" stroke-width="3.0" stroke-linecap="butt"/>
<text transform="translate(1675.87,640.70) scale(1,1.035)" font-size="22.75" fill="#000">6</text>
<text transform="translate(1676.10,669.70) scale(1,1.035)" font-size="22.75" fill="#000">4</text>
<text transform="translate(1675.99,698.00) scale(1,1.035)" font-size="22.75" fill="#000">2</text>
<text transform="translate(1672.39,725.40) scale(1,1.035)" font-size="22.75" fill="#000">2</text>
<text transform="translate(1671.45,840.20) scale(1,1.035)" font-size="22.75" fill="#000">1</text>
<text transform="translate(1672.03,954.30) scale(1,1.035)" font-size="22.75" fill="#000">0</text>
<rect x="1724.90" y="835.90" width="38.60" height="109.80" fill="#e4e5e7" stroke="#000" stroke-width="2.6"/>
<line x1="1744.30" y1="776.40" x2="1744.30" y2="889.40" stroke="#000" stroke-width="2.6" stroke-linecap="butt"/>
<line x1="1732.00" y1="776.40" x2="1756.70" y2="776.40" stroke="#000" stroke-width="2.8" stroke-linecap="butt"/>
<line x1="1732.00" y1="889.40" x2="1756.70" y2="889.40" stroke="#000" stroke-width="2.8" stroke-linecap="butt"/>
<circle cx="1744.00" cy="651.40" r="4.7" fill="#000"/>
<circle cx="1744.00" cy="783.30" r="4.7" fill="#000"/>
<circle cx="1734.70" cy="867.00" r="4.7" fill="#000"/>
<circle cx="1753.60" cy="872.90" r="4.7" fill="#000"/>
<circle cx="1744.00" cy="884.30" r="4.7" fill="#000"/>
<circle cx="1744.00" cy="899.60" r="4.7" fill="#000"/>
<circle cx="1744.00" cy="913.60" r="4.7" fill="#000"/>
<circle cx="1744.00" cy="929.30" r="4.7" fill="#000"/>
<circle cx="1744.00" cy="942.60" r="4.7" fill="#000"/>
<line x1="1811.40" y1="929.00" x2="1811.40" y2="941.00" stroke="#c11f30" stroke-width="2.6" stroke-linecap="butt"/>
<line x1="1793.00" y1="929.00" x2="1830.00" y2="929.00" stroke="#c11f30" stroke-width="2.8" stroke-linecap="butt"/>
<line x1="1795.00" y1="936.00" x2="1828.00" y2="936.00" stroke="#c11f30" stroke-width="2.6" stroke-linecap="butt"/>
<line x1="1798.00" y1="941.00" x2="1826.00" y2="941.00" stroke="#c11f30" stroke-width="2.4" stroke-linecap="butt"/>
<circle cx="1811.40" cy="900.40" r="4.5" fill="#c11f30"/>
<circle cx="1794.00" cy="930.50" r="4.5" fill="#c11f30"/>
<circle cx="1830.00" cy="930.50" r="4.5" fill="#c11f30"/>
<circle cx="1803.00" cy="934.00" r="4.5" fill="#c11f30"/>
<circle cx="1821.00" cy="934.00" r="4.5" fill="#c11f30"/>
<circle cx="1812.00" cy="937.00" r="4.5" fill="#c11f30"/>
<circle cx="1794.60" cy="943.00" r="4.5" fill="#c11f30"/>
<circle cx="1829.60" cy="945.00" r="4.5" fill="#c11f30"/>
<circle cx="1804.00" cy="942.50" r="4.5" fill="#c11f30"/>
<circle cx="1820.00" cy="942.50" r="4.5" fill="#c11f30"/>
<circle cx="1812.00" cy="945.00" r="4.5" fill="#c11f30"/>
<path d="M1743,641 V632 H1810.2 V862.4" stroke="#000" stroke-width="2.8" fill="none" stroke-linejoin="miter"/>
<text transform="translate(1840.00,791.90) rotate(-90) scale(1,1.035)" font-size="22.75" fill="#000">p=0.004</text>
<text transform="translate(1651.50,931.04) rotate(-90) scale(1,1.035)" font-size="22.75" fill="#000">Fold change of BLI signal</text>
<text transform="translate(1699.64,980.70) scale(1,1.035)" font-size="22.75" fill="#000">Control</text>
<text transform="translate(1787.00,980.70) scale(1,1.035)" font-size="22.75" fill="#000">+Dox</text>
</svg>
</body></html>
